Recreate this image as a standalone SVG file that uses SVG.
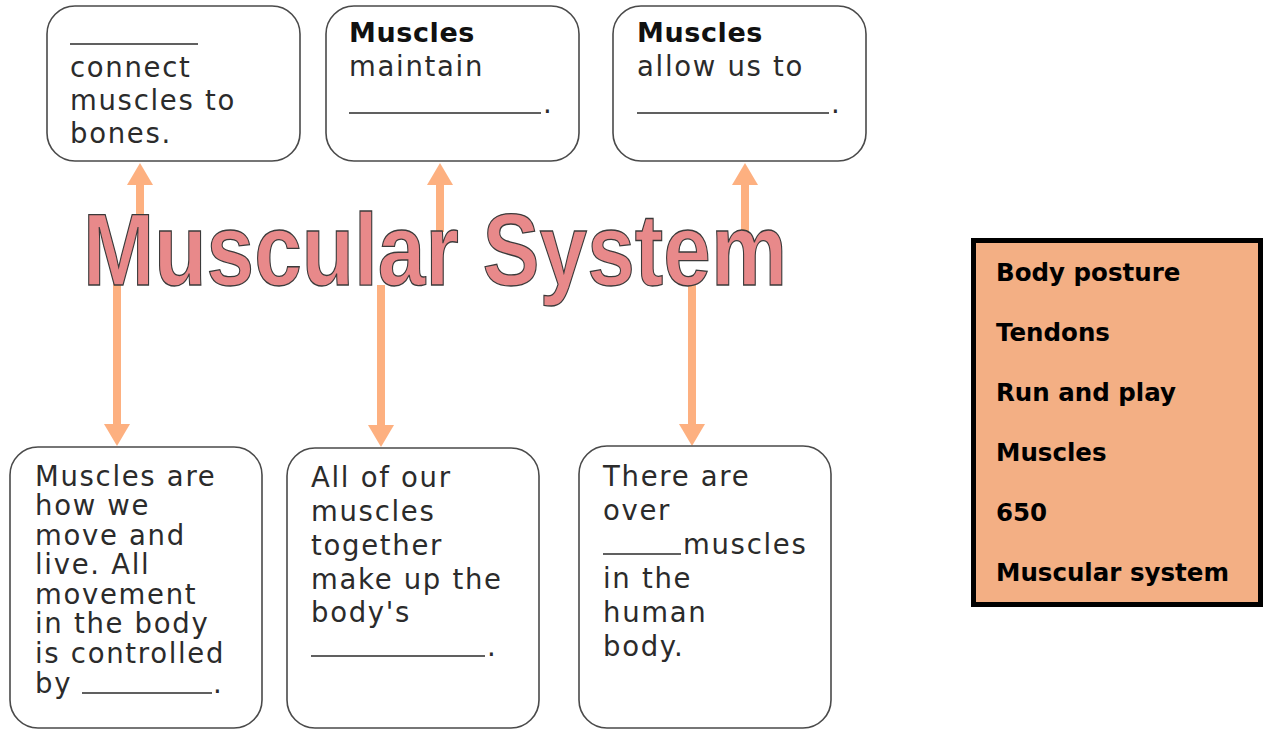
<svg xmlns="http://www.w3.org/2000/svg" width="1264" height="730" viewBox="0 0 1264 730">
<defs>
<style>
.box{fill:#fff;stroke:#4a4a4a;stroke-width:1.6}
.t{font-family:"DejaVu Sans",sans-serif;font-size:27.5px;fill:#2b2b2b;letter-spacing:1.7px}
.b{font-family:"DejaVu Sans",sans-serif;font-size:27px;font-weight:bold;fill:#111;letter-spacing:0.6px}
.blank{stroke:#2b2b2b;stroke-width:1.6}
.arr{stroke:#FDB080;stroke-width:8;fill:none;marker-end:url(#ah)}
.key{font-family:"DejaVu Sans",sans-serif;font-size:24.5px;font-weight:bold;fill:#000}
.title{font-family:"Liberation Sans",Arial,sans-serif;font-size:102px;font-weight:bold;fill:#E8898A;stroke:#3a3a3a;stroke-width:1.3}
</style>
<marker id="ah" markerUnits="userSpaceOnUse" markerWidth="24" markerHeight="28" viewBox="0 -14 24 28" refX="0" refY="0" orient="auto">
<path d="M0,-13 L22,0 L0,13 z" fill="#FDB080"/>
</marker>
</defs>
<rect width="1264" height="730" fill="#fff"/>

<g id="connectors">
<line class="arr" x1="140" y1="214" x2="140" y2="185"/>
<line class="arr" x1="440" y1="232" x2="440" y2="185"/>
<line class="arr" x1="745" y1="232" x2="745" y2="185"/>
<line class="arr" x1="117" y1="283" x2="117" y2="424"/>
<line class="arr" x1="381" y1="285" x2="381" y2="425"/>
<line class="arr" x1="692" y1="285" x2="692" y2="424"/>
</g>

<g id="title">
<text class="title" x="83" y="285" textLength="704" lengthAdjust="spacingAndGlyphs">Muscular System</text>
</g>

<g id="top1">
<rect class="box" x="47" y="6" width="253" height="155" rx="28"/>
<line class="blank" x1="70" y1="44" x2="198" y2="44"/>
<text class="t" x="70" y="77">connect</text>
<text class="t" x="70" y="110">muscles to</text>
<text class="t" x="70" y="143">bones.</text>
</g>

<g id="top2">
<rect class="box" x="326" y="6" width="253" height="155" rx="28"/>
<text class="b" x="349" y="42">Muscles</text>
<text class="t" x="349" y="76">maintain</text>
<line class="blank" x1="349" y1="113" x2="541" y2="113"/>
<text class="t" x="543" y="113">.</text>
</g>

<g id="top3">
<rect class="box" x="613" y="6" width="253" height="155" rx="28"/>
<text class="b" x="637" y="42">Muscles</text>
<text class="t" x="637" y="76">allow us to</text>
<line class="blank" x1="637" y1="113" x2="829" y2="113"/>
<text class="t" x="831" y="113">.</text>
</g>

<g id="bottom1">
<rect class="box" x="10" y="447" width="252" height="281" rx="28"/>
<text class="t" x="35" y="486">Muscles are</text>
<text class="t" x="35" y="515">how we</text>
<text class="t" x="35" y="545">move and</text>
<text class="t" x="35" y="574">live. All</text>
<text class="t" x="35" y="604">movement</text>
<text class="t" x="35" y="633">in the body</text>
<text class="t" x="35" y="663">is controlled</text>
<text class="t" x="35" y="693">by</text>
<line class="blank" x1="82" y1="693" x2="212" y2="693"/>
<text class="t" x="213" y="693">.</text>
</g>

<g id="bottom2">
<rect class="box" x="287" y="448" width="252" height="280" rx="28"/>
<text class="t" x="311" y="487">All of our</text>
<text class="t" x="311" y="521">muscles</text>
<text class="t" x="311" y="555">together</text>
<text class="t" x="311" y="589">make up the</text>
<text class="t" x="311" y="622">body's</text>
<line class="blank" x1="311" y1="656" x2="485" y2="656"/>
<text class="t" x="487" y="656">.</text>
</g>

<g id="bottom3">
<rect class="box" x="579" y="446" width="252" height="282" rx="28"/>
<text class="t" x="603" y="486">There are</text>
<text class="t" x="603" y="520">over</text>
<line class="blank" x1="603" y1="554" x2="681" y2="554"/>
<text class="t" x="683" y="554" letter-spacing="0.6">muscles</text>
<text class="t" x="603" y="588">in the</text>
<text class="t" x="603" y="622">human</text>
<text class="t" x="603" y="656">body.</text>
</g>

<g id="wordbank">
<rect x="973.5" y="240.5" width="287" height="364" fill="#F3AF84" stroke="#000" stroke-width="5"/>
<text class="key" x="996" y="281">Body posture</text>
<text class="key" x="996" y="341">Tendons</text>
<text class="key" x="996" y="401">Run and play</text>
<text class="key" x="996" y="461">Muscles</text>
<text class="key" x="996" y="521">650</text>
<text class="key" x="996" y="581">Muscular system</text>
</g>
</svg>
